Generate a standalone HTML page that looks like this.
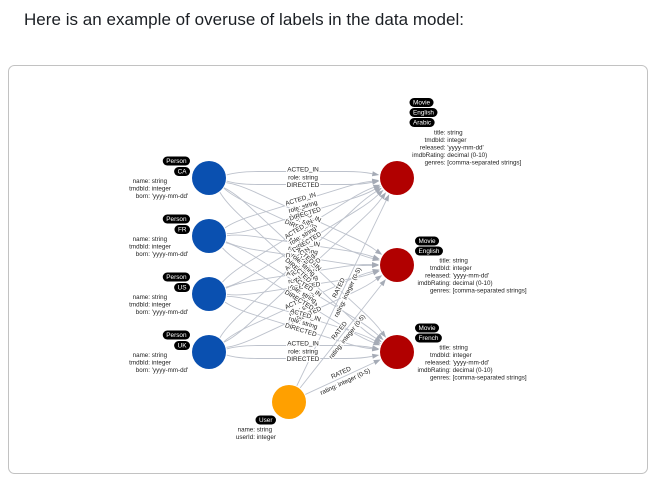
<!DOCTYPE html>
<html lang="en">
<head>
<meta charset="utf-8">
<title>Overuse of labels in the data model</title>
<style>
html,body{margin:0;padding:0;background:#fff;width:656px;height:481px;overflow:hidden}
svg{display:block;font-family:"Liberation Sans",sans-serif}
</style>
</head>
<body>
<svg id="stage" width="656" height="481" viewBox="0 0 656 481">
  <text x="24" y="25" font-size="17" fill="#1b1f24" textLength="440" lengthAdjust="spacing">Here is an example of overuse of labels in the data model:</text>
  <rect x="8.5" y="65.5" width="639" height="408" rx="6" ry="6" fill="#fff" stroke="#c2c2c2" stroke-width="1"/>
  <g id="edges"></g>
  <g id="edge-labels"></g>
  <g id="nodes"></g>
</svg>
<script>
var personLabels = ['CA', 'FR', 'US', 'UK'];
var movieLabels = [['Movie', 'English', 'Arabic'], ['Movie', 'English'], ['Movie', 'French']];
var personProps = [['name', 'string'], ['tmdbId', 'integer'], ['born', "'yyyy-mm-dd'"]];
var movieProps = [['title', 'string'], ['tmdbId', 'integer'], ['released', "'yyyy-mm-dd'"], ['imdbRating', 'decimal (0-10)'], ['genres', '[comma-separated strings]']];
var userProps = [['name', 'string'], ['userId', 'integer']];
var personRelations = ['ACTED_IN', 'DIRECTED'];
var personRelationProp = 'role: string';
var userRelation = 'RATED';
var userRelationProp = 'rating: integer (0-5)';
var labelDrawOrder = [1, 0, 2];

var NS = 'http://www.w3.org/2000/svg';
var R = 17;
var FONT = 6.4;
var PROP_FONT = 6.25;
var LINE = '#bdc2cc';
var HEAD = '#a5abb6';
var edgesG = document.getElementById('edges');
var labelsG = document.getElementById('edge-labels');
var nodesG = document.getElementById('nodes');

function personPos(i) { return { x: 209, y: 178 + i * 58 }; }
function moviePos(i) { return { x: 397, y: 178 + i * 87 }; }
var userPos = { x: 289, y: 402 };

function el(tag, attrs, parent) {
  var e = document.createElementNS(NS, tag);
  for (var k in attrs) e.setAttribute(k, attrs[k]);
  parent.appendChild(e);
  return e;
}

function edgeFrame(a, b) {
  var dx = b.x - a.x, dy = b.y - a.y;
  var L = Math.sqrt(dx * dx + dy * dy);
  var ang = Math.atan2(dy, dx) * 180 / Math.PI;
  return { L: L, ang: ang, tf: 'translate(' + a.x + ' ' + a.y + ') rotate(' + ang + ')' };
}

function drawCurvedEdge(a, b, side, name) {
  var f = edgeFrame(a, b);
  var g = el('g', { transform: f.tf }, edgesG);
  
  
  var off = side * 6.5;
  var sx = (R + 1) * 0.985, sy = side * (R + 1) * 0.17;
  var ex = f.L - (R + 8) * 0.985, ey = side * (R + 8) * 0.17;
  var d = 'M' + sx + ' ' + sy +
    ' Q' + (R + 12) + ' ' + off + ' ' + (R + 32) + ' ' + off +
    ' L' + (f.L - R - 34) + ' ' + off +
    ' Q' + (f.L - R - 18) + ' ' + off + ' ' + ex + ' ' + ey;
  el('path', { d: d, fill: 'none', stroke: LINE, 'stroke-width': 0.9 }, g);
  var tipX = f.L - (R + 1) * 0.985, tipY = side * (R + 1) * 0.17;
  var ux = tipX - ex, uy = tipY - ey, n = Math.sqrt(ux * ux + uy * uy);
  ux /= n; uy /= n;
  var p = tipX + ',' + tipY + ' ' +
    (ex - uy * 2.6) + ',' + (ey + ux * 2.6) + ' ' +
    (ex + uy * 2.6) + ',' + (ey - ux * 2.6);
  el('polygon', { points: p, fill: HEAD }, g);
}

function drawStraightEdge(a, b, name) {
  var f = edgeFrame(a, b);
  var g = el('g', { transform: f.tf }, edgesG);
  
  
  el('line', { x1: R + 1, y1: 0, x2: f.L - R - 8, y2: 0, stroke: LINE, 'stroke-width': 0.9 }, g);
  var x = f.L - R - 1;
  el('polygon', { points: x + ',0 ' + (x - 7) + ',-2.6 ' + (x - 7) + ',2.6', fill: HEAD }, g);
}

function edgeText(a, b, lines, offsets, name) {
  var f = edgeFrame(a, b);
  var g = el('g', { transform: f.tf }, labelsG);
  
  
  lines.forEach(function (s, i) {
    var t = el('text', {
      x: f.L / 2, y: offsets[i] + 2.2, 'text-anchor': 'middle', 'font-size': FONT, fill: '#222',
      stroke: '#fff', 'stroke-width': 2.4, 'paint-order': 'stroke', 'stroke-linejoin': 'round'
    }, g);
    t.textContent = s;
  });
}

function drawPill(text, x, y, alignRight, name) {
  var g = el('g', {}, nodesG);
  
  
  var rect = el('rect', { y: y - 4.5, height: 9, rx: 4.5, ry: 4.5, fill: '#000' }, g);
  var t = el('text', { y: y + 2.2, 'font-size': FONT, fill: '#fff' }, g);
  t.textContent = text;
  var w = t.getComputedTextLength() + 7;
  var left = alignRight ? x - w : x;
  rect.setAttribute('x', left);
  rect.setAttribute('width', w);
  t.setAttribute('x', left + 3.5);
}

function drawProps(rows, colonX, yStart, step, name) {
  var g = el('g', {}, nodesG);
  
  
  rows.forEach(function (r, i) {
    var y = yStart + i * step + 2.2;
    var k = el('text', { x: colonX, y: y, 'text-anchor': 'end', 'font-size': PROP_FONT, fill: '#222' }, g);
    k.textContent = r[0] + ':';
    var v = el('text', { x: colonX + 1.8, y: y, 'font-size': PROP_FONT, fill: '#222' }, g);
    v.textContent = r[1];
  });
}

function drawCircle(p, color, name) {
  var c = el('circle', { cx: p.x, cy: p.y, r: R, fill: color }, nodesG);
  
  
}

/* relationship lines */
personLabels.forEach(function (pl, i) {
  movieLabels.forEach(function (ml, j) {
    drawCurvedEdge(personPos(i), moviePos(j), -1, 'edge-acted-in');
    drawCurvedEdge(personPos(i), moviePos(j), 1, 'edge-directed');
  });
});
movieLabels.forEach(function (ml, j) {
  drawStraightEdge(userPos, moviePos(j), 'edge-rated');
});

/* relationship labels: overlapping labels stack by target movie */
labelDrawOrder.forEach(function (j) {
  personLabels.forEach(function (pl, i) {
    edgeText(personPos(i), moviePos(j),
      [personRelations[0], personRelationProp, personRelations[1]], [-8.5, -0.5, 7],
      'edge-label-person-movie');
  });
});
movieLabels.forEach(function (ml, j) {
  edgeText(userPos, moviePos(j), [userRelation, userRelationProp], [-5, 5], 'edge-label-rated');
});

/* nodes */
personLabels.forEach(function (pl, i) {
  var p = personPos(i);
  drawCircle(p, '#0a50b0', 'person-node');
  drawPill('Person', 190, p.y - 17, true, 'person-label');
  drawPill(pl, 190, p.y - 6.5, true, 'country-label');
  drawProps(personProps, 150, p.y + 3, 7.5, 'person-properties');
});
movieLabels.forEach(function (ml, j) {
  var p = moviePos(j);
  var many = ml.length === 3;
  var pillX = many ? 409.5 : 415;
  var top = many ? 102.5 : p.y - 24;
  drawCircle(p, '#b10000', 'movie-node');
  ml.forEach(function (s, k) {
    drawPill(s, pillX, top + k * 10, false, 'movie-label');
  });
  drawProps(movieProps, many ? 445.5 : 450.8, many ? 132.2 : top + 19.4, 7.5, 'movie-properties');
});
drawCircle(userPos, '#ffa000', 'user-node');
drawPill('User', 276, 420, true, 'user-label');
drawProps(userProps, 255, 429.5, 7.5, 'user-properties');
</script>
</body>
</html>
